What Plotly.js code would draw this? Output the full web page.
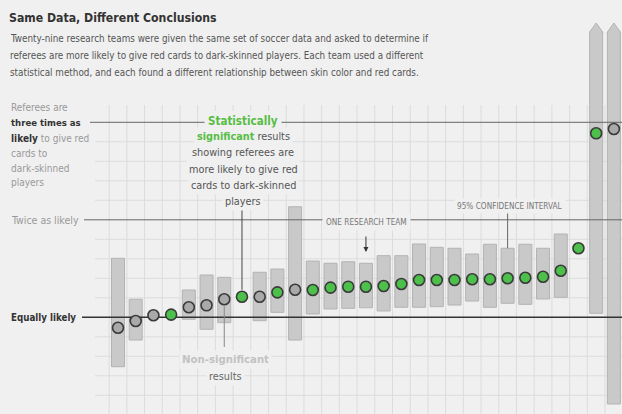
<!DOCTYPE html>
<html><head><meta charset="utf-8">
<script src="https://cdn.plot.ly/plotly-3.0.1.min.js"></script>
<style>html,body{margin:0;padding:0;background:#f0f0f0;}#chart{width:622px;height:414px;}</style>
</head><body><div id="chart"></div>
<script>
// ---- data (odds ratio of a red card, dark vs light skin, per research team) ----
const teams = [1,2,3,4,5,6,7,8,9,10,11,12,13,14,15,16,17,18,19,20,21,22,23,24,25,26,27,28,29];
const oddsRatio = [0.893,0.962,1.021,1.027,1.103,1.123,1.185,1.211,1.211,1.256,1.283,1.280,1.304,1.314,1.314,1.321,1.342,1.383,1.383,1.383,1.390,1.390,1.400,1.406,1.416,1.478,1.708,2.887,2.931];
const ciLow  = [0.493,0.767,null,null,0.980,0.877,0.945,null,0.965,1.051,0.767,1.034,1.085,1.092,1.098,1.065,1.103,1.103,1.109,1.126,1.167,1.103,1.144,1.133,1.188,1.205,null,1.041,0.111];
// last two intervals run off the top of the chart (drawn with arrow tips)
const ciHigh = [1.605,1.185,null,null,1.280,1.434,1.410,null,1.462,1.495,2.134,1.577,1.554,1.570,1.554,1.632,1.632,1.752,1.718,1.708,1.649,1.749,1.708,1.749,1.708,1.854,null,3.926,3.926];
const significant = [0,0,0,1,0,0,0,1,0,1,0,1,1,1,1,1,1,1,1,1,1,1,1,1,1,1,1,1,0];
const offChart = [0,0,0,0,0,0,0,0,0,0,0,0,0,0,0,0,0,0,0,0,0,0,0,0,0,0,0,1,1];
const refLevels = [1,2,3];
const gridLevels = [0.2,0.4,0.6,0.8,1.2,1.4,1.6,1.8,2.2,2.4,2.6,2.8];

// ---- layout helpers (pixel -> axis units; margins are zero) ----
function tx(px){return 1+(px-118)/17.71;}
function ty(py){return 1+(317.3-py)/97.5;}
const PXU = 17.71, PYU = 97.5;
const FONT = "DejaVu Sans Condensed, DejaVu Sans, sans-serif";
const BG = '#f0f0f0';
const GREEN = '#4cc04a', GREENTXT = '#58bd45';
const BARW = 13/PXU;

const shapes = [];
for (let t=0.5; t<=29.5; t+=1){
  shapes.push({type:'line',layer:'below',xref:'x',yref:'y',x0:t,x1:t,y0:0,y1:ty(105),line:{color:'#dcdcdc',width:1}});
}
gridLevels.forEach(v=>{
  shapes.push({type:'line',layer:'below',xref:'x',yref:'y',x0:tx(95),x1:tx(622),y0:v,y1:v,line:{color:'#dcdcdc',width:1}});
});
teams.forEach((t,i)=>{
  if(offChart[i]){
    const h=ciHigh[i], w=BARW/2, tip=h+9/PYU;
    shapes.push({type:'path',layer:'above',xref:'x',yref:'y',
      path:`M ${t-w} ${h-1.5/PYU} L ${t-w} ${h} L ${t} ${tip} L ${t+w} ${h} L ${t+w} ${h-1.5/PYU}`,
      fillcolor:'#c9c9c9',line:{color:'#b3b3b3',width:1}});
  }
});
const i8=7, i7=6, i23=22;
shapes.push({type:'line',layer:'above',xref:'x',yref:'y',x0:teams[i8],x1:teams[i8],y0:ty(209),y1:oddsRatio[i8]+7/PYU,line:{color:'#444',width:1}});
shapes.push({type:'line',layer:'above',xref:'x',yref:'y',x0:teams[i7],x1:teams[i7],y0:oddsRatio[i7]-7/PYU,y1:ty(347),line:{color:'#888',width:1}});
shapes.push({type:'line',layer:'above',xref:'x',yref:'y',x0:teams[i23],x1:teams[i23],y0:ty(213),y1:ciHigh[i23],line:{color:'#666',width:1}});

const traces = [];
traces.push({type:'bar',x:teams,base:ciLow,
  y:ciHigh.map((h,i)=>h==null?null:h-ciLow[i]),width:BARW,
  marker:{color:'#c9c9c9',line:{color:'#b3b3b3',width:1}},hoverinfo:'skip',showlegend:false});
const refStart = {1:82,2:84,3:90};
refLevels.forEach(v=>{
  traces.push({type:'scatter',mode:'lines',x:[tx(refStart[v]),tx(622)],y:[v,v],
    line:{color:v===1?'#333':'#666',width:v===1?1.6:1},hoverinfo:'skip',showlegend:false});
});
traces.push({type:'scatter',mode:'markers',x:teams,y:oddsRatio,
  marker:{size:11,color:significant.map(s=>s?GREEN:'#a9a9a9'),line:{color:'#3a3a3a',width:1.6}},
  hoverinfo:'skip',showlegend:false});

function ann(text,px,py,o){
  o=o||{};
  return {text:text,x:tx(px),y:ty(py),xref:'x',yref:'y',showarrow:false,
    xanchor:o.xa||'left',yanchor:'middle',
    font:{family:FONT,size:o.size||10,color:o.color||'#999'},
    bgcolor:o.bg||'rgba(0,0,0,0)',borderpad:o.pad||0};
}
const annotations = [
  ann('Twenty-nine research teams were given the same set of soccer data and asked to determine if',9,38,{size:9.8,color:'#555'}),
  ann('referees are more likely to give red cards to dark-skinned players. Each team used a different',9,55,{size:9.8,color:'#555'}),
  ann('statistical method, and each found a different relationship between skin color and red cards.',9,72,{size:9.8,color:'#555'}),
  ann('Referees are',10,107.5),
  ann('<b>three times as</b>',10,122.5,{color:'#333',size:9.5}),
  ann('<b><span style="color:#333">likely</span></b> to give red',10,138),
  ann('cards to',10,153),
  ann('dark-skinned',10,168),
  ann('players',10,182.5),
  ann('Twice as likely',10,219.5,{size:10.5}),
  ann('<b>Equally likely</b>',10,317.3,{color:'#333',size:9.7}),
  ann('<b>Statistically</b>',243,120.5,{xa:'center',size:11.5,color:GREENTXT,bg:BG,pad:3}),
  ann('<b><span style="color:'+GREENTXT+'">significant</span></b> results',243,136.5,{xa:'center',size:10.8,color:'#555',bg:BG,pad:2}),
  ann('showing referees are',243,152.7,{xa:'center',size:10.8,color:'#555',bg:BG,pad:2}),
  ann('more likely to give red',243,169,{xa:'center',size:10.8,color:'#555',bg:BG,pad:2}),
  ann('cards to dark-skinned',243,185,{xa:'center',size:10.8,color:'#555',bg:BG,pad:2}),
  ann('players',243,201,{xa:'center',size:10.8,color:'#555',bg:BG,pad:2}),
  ann('<b>Non-significant</b>',225,359,{xa:'center',size:11.3,color:'#c2c2c2',bg:BG,pad:2}),
  ann('results',225,376,{xa:'center',size:10.8,color:'#666',bg:BG,pad:2}),
  ann('ONE RESEARCH TEAM',366.5,222.3,{xa:'center',size:8.2,color:'#777',bg:BG,pad:3}),
  ann('95% CONFIDENCE INTERVAL',510,206,{xa:'center',size:8.2,color:'#777',bg:BG,pad:2}),
  {text:'',x:teams[14],y:ty(252),ax:0,ay:-17,xref:'x',yref:'y',showarrow:true,arrowhead:2,arrowsize:1,arrowwidth:1,arrowcolor:'#333'}
];

const layout = {
  width:622,height:414,margin:{l:0,r:0,t:0,b:0},
  paper_bgcolor:BG,plot_bgcolor:BG,
  title:{text:'<b>Same Data, Different Conclusions</b>',x:9/622,xanchor:'left',xref:'paper',
    y:1-18/414,yanchor:'middle',yref:'paper',font:{family:FONT,size:12.2,color:'#333'}},
  xaxis:{range:[tx(0),tx(622)],showgrid:false,zeroline:false,showticklabels:false,ticks:'',fixedrange:true},
  yaxis:{range:[ty(414),ty(0)],showgrid:false,zeroline:false,showticklabels:false,ticks:'',fixedrange:true},
  shapes:shapes,annotations:annotations,showlegend:false,bargap:0
};
Plotly.newPlot('chart',traces,layout,{displayModeBar:false,staticPlot:true});
</script></body></html>
